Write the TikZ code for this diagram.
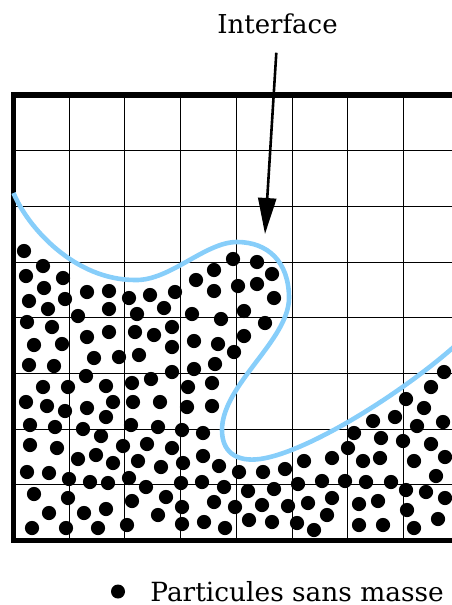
\documentclass[tikz,border=0pt]{standalone}
\usepackage{fontspec}
\setmainfont{DejaVu Serif}
\usetikzlibrary{arrows.meta,positioning}
\definecolor{ink}{HTML}{000000}
\definecolor{interfaceblue}{HTML}{87CEFA}
\tikzset{
  gridline/.style={draw=ink,line width=0.9pt},
  boxline/.style={draw=ink,line width=5.5pt,line join=miter},
  interfaceline/.style={draw=interfaceblue,line width=4.6pt},
  pointarr/.style={-{Triangle[length=36pt,width=18pt]},line width=2.6pt,color=ink},
  particle/.style={circle,fill=ink,inner sep=0pt,minimum size=14pt},
  bigtext/.style={font=\fontsize{26}{30}\selectfont,text=ink,inner sep=0pt}
}

\begin{document}
\begin{tikzpicture}[x=1pt,y=-1pt,>=Triangle]
  \useasboundingbox (0,0) rectangle (451,605);
  % grid
  \foreach \k in {1,...,7}{
    \draw[gridline] ({13.5+55.7*\k},95) -- ({13.5+55.7*\k},540.7);
    \draw[gridline] (13.5,{95+55.7*\k}) -- (460,{95+55.7*\k});
  }
  \draw[boxline] (460,95) -- (13.5,95) -- (13.5,540.7) -- (460,540.7);
  % interface
  \draw[interfaceline] (13.5,193) .. controls (28,228) and (75,280) .. (135,280)
    .. controls (170,281) and (205,242) .. (237,242)
    .. controls (268,242) and (289,262) .. (289,298)
    .. controls (289,340) and (222,385) .. (222,430)
    .. controls (222,452) and (236,460.5) .. (255,459.5)
    .. controls (300,457) and (400,395) .. (456,345);
  % particles
  \foreach \px/\py in {24/251,43/266,26/276,63/278,44/288,29/301,65/299,87/292,109/291,
      129/298,150/295,48/309,78/316,109/309,137/314,27/322,52/327,87/337,109/332,
      135/332,154/335,34/345,62/344,94/358,119/357,139/355,29/365,54/366,43/387,
      68/387,86/376,106/386,132/383,151/379,
      164/308,175/292,196/280,214/270,214/291,233/259,257/262,272/274,238/286,257/284,
      274/298,192/314,221/319,244/311,265/323,172/327,172/347,194/341,218/344,244/336,
      234/352,172/372,194/369,215/364,188/387,212/383,
      26/402,47/406,65/411,87/408,113/402,133/402,160/402,106/417,30/425,55/427,
      83/429,101/436,131/425,158/427,30/445,57/448,123/446,147/444,78/459,96/455,
      113/463,138/461,161/467,27/472,49/473,69/479,90/482,108/483,129/478,146/487,
      34/494,68/498,132/501,49/513,84/513,106/509,158/515,32/528,66/528,98/528,127/525,
      187/407,212/406,182/430,203/433,172/448,183/463,203/456,219/466,239/472,263/472,
      285/469,304/461,181/483,202/482,224/487,248/491,274/489,298/484,166/497,214/502,
      235/507,262/505,288/506,182/507,182/524,204/522,225/528,249/520,272/522,297/523,
      444/372,431/387,406/399,424/408,443/422,373/421,395/417,354/433,381/438,417/426,
      403/441,431/444,348/448,332/458,363/461,380/458,414/461,445/457,322/481,345/481,
      366/482,391/482,436/476,406/490,426/492,445/498,308/503,332/498,359/504,378/501,
      407/510,327/515,314/530,359/525,383/525,414/528,438/519}
    \fill[ink] (\px,\py) circle[radius=7.1];
  % label and pointer
  \node[bigtext] (iface) at (277.5,23.5) {Interface};
  \coordinate (ifacetip) at (265,234);
  \draw[pointarr,shorten <=19pt] (iface.south) -- (ifacetip);
  % legend
  \node[particle] (legdot) at (118,591.5) {};
  \node[bigtext,font=\fontsize{26.4}{30}\selectfont,right=25pt of legdot] (legtext) {Particules sans masse};
\end{tikzpicture}
\end{document}
